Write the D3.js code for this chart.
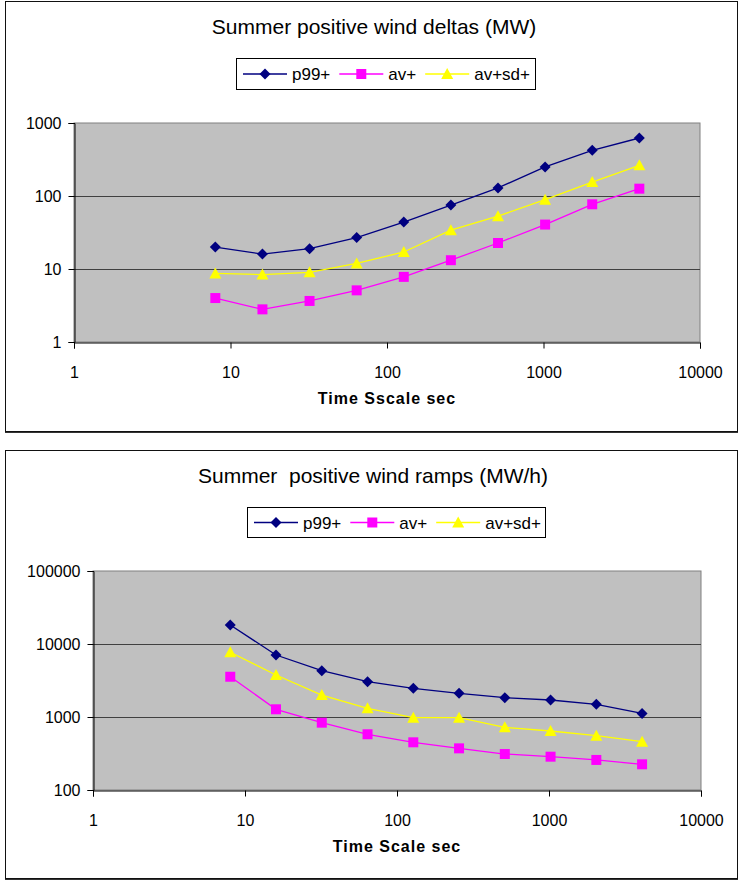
<!DOCTYPE html>
<html>
<head>
<meta charset="utf-8">
<script src="https://cdn.jsdelivr.net/npm/d3@7"></script>
<style>
  body { margin: 0; background: #fff; }
  svg text { font-family: "Liberation Sans", Arial, sans-serif; }
</style>
</head>
<body>
<svg id="chart" width="739" height="880"></svg>
<script>
// time scales in seconds (x values)
const timeScales = [8, 16, 32, 64, 128, 256, 512, 1024, 2048, 4096];

// top chart: positive wind deltas (MW)
const deltaP99 = [20, 16, 19, 27, 44, 75, 129, 250, 422, 623];
const deltaAv = [4.0, 2.8, 3.65, 5.1, 7.8, 13.2, 22.7, 40.6, 77, 126];
const deltaAvSd = [8.7, 8.4, 9.0, 11.9, 17.1, 34, 53, 89, 155, 263];

// bottom chart: positive wind ramps (MW/h)
const rampP99 = [18200, 7070, 4310, 3050, 2470, 2110, 1840, 1710, 1490, 1120];
const rampAv = [3560, 1275, 836, 580, 450, 372, 311, 286, 258, 225];
const rampAvSd = [7700, 3760, 2000, 1315, 978, 978, 722, 643, 555, 459];

const seriesNames = ["p99+", "av+", "av+sd+"];
const xTicks = [1, 10, 100, 1000, 10000];
const deltaTicks = [1, 10, 100, 1000];
const rampTicks = [100, 1000, 10000, 100000];

const colors = ["#000080", "#ff00ff", "#ffff00"];
const markers = [
  "M0,-5.5L5.5,0L0,5.5L-5.5,0Z",
  "M-5,-5H5V5H-5Z",
  "M0,-6L6,5H-6Z"
];

const svg = d3.select("#chart");

function drawChart(opt) {
  const g = svg.append("g");

  // outer frame
  g.append("rect")
    .attr("x", opt.frame[0] + 0.5).attr("y", opt.frame[1] + 0.5)
    .attr("width", opt.frame[2]).attr("height", opt.frame[3])
    .attr("fill", "#fff").attr("stroke", "#111");
  g.append("line")
    .attr("x1", opt.frame[0]).attr("x2", opt.frame[0] + opt.frame[2] + 1)
    .attr("y1", opt.frame[1] + opt.frame[3] + 1.5).attr("y2", opt.frame[1] + opt.frame[3] + 1.5)
    .attr("stroke", "#333");

  const [l, t, r, b] = opt.plot;
  const x = d3.scaleLog().domain([1, 10000]).range([l, r]);
  const y = d3.scaleLog().domain(d3.extent(opt.yTicks)).range([b, t]);

  // plot area
  g.append("rect")
    .attr("x", l).attr("y", t).attr("width", r - l).attr("height", b - t)
    .attr("fill", "#c0c0c0").attr("stroke", "#808080");

  // gridlines
  g.selectAll(".grid")
    .data(opt.yTicks.slice(1, -1))
    .enter().append("line")
    .attr("x1", l).attr("x2", r)
    .attr("y1", d => Math.round(y(d)) + 0.5).attr("y2", d => Math.round(y(d)) + 0.5)
    .attr("stroke", "#404040");

  // axes
  const yAxis = g.append("g")
    .attr("transform", `translate(${l + 0.5},0)`)
    .call(d3.axisLeft(y).tickValues(opt.yTicks).tickFormat(d3.format("d")).tickSize(6).tickPadding(7));
  const xAxis = g.append("g")
    .attr("transform", `translate(0,${b + 0.5})`)
    .call(d3.axisBottom(x).tickValues(xTicks).tickFormat(d3.format("d")).tickSize(6).tickPadding(18));
  [yAxis, xAxis].forEach(a => {
    a.select(".domain").attr("stroke", "#000");
    a.selectAll(".tick line").attr("stroke", "#000");
    a.selectAll("text").attr("font-size", "16px").attr("fill", "#000")
      .style("font-family", "'Liberation Sans', Arial, sans-serif");
  });

  // series
  const line = d3.line().x((d, i) => x(timeScales[i])).y(d => y(d));
  opt.series.forEach((vals, k) => {
    g.append("path")
      .datum(vals)
      .attr("d", line)
      .attr("fill", "none")
      .attr("stroke", colors[k])
      .attr("stroke-width", 1.3);
    g.selectAll(".m" + k)
      .data(vals)
      .enter().append("path")
      .attr("transform", (d, i) => `translate(${x(timeScales[i])},${y(d)})`)
      .attr("d", markers[k])
      .attr("fill", colors[k]);
  });

  // title
  g.append("text")
    .attr("x", opt.titleX).attr("y", opt.titleY)
    .attr("text-anchor", "middle")
    .attr("font-size", "21px")
    .style("white-space", "pre")
    .text(opt.title);

  // x axis label
  g.append("text")
    .attr("x", (l + r) / 2).attr("y", opt.xLabelY)
    .attr("text-anchor", "middle")
    .attr("font-size", "16px")
    .attr("font-weight", "bold")
    .attr("letter-spacing", "1px")
    .text(opt.xLabel);

  // legend
  const [lx, ly, lw, lh] = opt.legend;
  g.append("rect")
    .attr("x", lx + 0.5).attr("y", ly + 0.5).attr("width", lw).attr("height", lh)
    .attr("fill", "#fff").attr("stroke", "#000");
  let cx = lx + 7;
  const cy = ly + lh / 2 + 0.5;
  seriesNames.forEach((name, k) => {
    g.append("line")
      .attr("x1", cx).attr("x2", cx + 44)
      .attr("y1", cy).attr("y2", cy)
      .attr("stroke", colors[k]).attr("stroke-width", 1.3);
    g.append("path")
      .attr("transform", `translate(${cx + 22},${cy})`)
      .attr("d", markers[k])
      .attr("fill", colors[k]);
    const txt = g.append("text")
      .attr("x", cx + 49).attr("y", cy + 6)
      .attr("font-size", "17px")
      .text(name);
    cx += 49 + txt.node().getComputedTextLength() + 9;
  });
}

drawChart({
  frame: [5, 1, 732, 430],
  plot: [74, 123, 700, 342],
  yTicks: deltaTicks,
  series: [deltaP99, deltaAv, deltaAvSd],
  title: "Summer positive wind deltas (MW)",
  titleX: 374, titleY: 34,
  xLabel: "Time Sscale sec",
  xLabelY: 404,
  legend: [236, 58, 299, 31]
});

drawChart({
  frame: [5, 450, 732, 428],
  plot: [93, 571, 701, 790],
  yTicks: rampTicks,
  series: [rampP99, rampAv, rampAvSd],
  title: "Summer  positive wind ramps (MW/h)",
  titleX: 373, titleY: 483,
  xLabel: "Time Scale sec",
  xLabelY: 852,
  legend: [247, 507, 298, 30]
});
</script>
</body>
</html>
